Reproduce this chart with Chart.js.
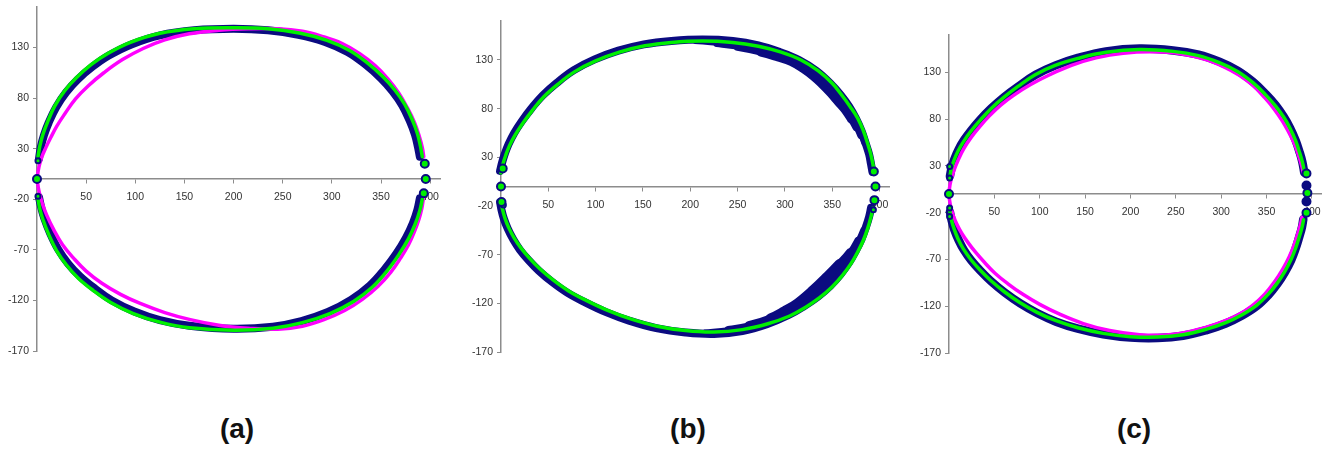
<!DOCTYPE html>
<html>
<head>
<meta charset="utf-8">
<script src="https://cdn.jsdelivr.net/npm/chart.js@4.4.0/dist/chart.umd.min.js"></script>
<style>
  body { margin: 0; background: #fff; width: 1327px; height: 449px; overflow: hidden; position: relative; }
  .panel { position: absolute; }
  .tag { position: absolute; font: bold 28px "Liberation Sans", Arial, sans-serif; color: #111; transform: translate(-50%, -50%); }
</style>
</head>
<body>
<div class="panel" style="left:7px;top:-5px;width:445px;height:368px"><canvas id="ca"></canvas></div>
<div class="panel" style="left:471px;top:9px;width:430px;height:355px"><canvas id="cb"></canvas></div>
<div class="panel" style="left:919px;top:23px;width:414px;height:342px"><canvas id="cc"></canvas></div>
<div class="tag" style="left:237px;top:429px">(a)</div>
<div class="tag" style="left:688px;top:429px">(b)</div>
<div class="tag" style="left:1134px;top:429px">(c)</div>
<script>
// tick labels shared by the three panels
const xTicks = [50, 100, 150, 200, 250, 300, 350, 400];
const yTicks = [-170, -120, -70, -20, 30, 80, 130];

// panel (a) - [x, y] pairs, each run left to right
const aGreenTop = [[1,22],[3,33],[6,44],[11,57],[18,72],[28,87],[40,100],[55,113],[72,124],[95,135],[125,144],[160,148.5],[200,149.5],[235,148.5],[268,144],[295,137],[318,127],[337,114],[352,101],[364,88],[374,74],[382,58],[387,45],[390,33],[392,22]];
const aGreenBot = [[1,-20],[3,-30],[6,-40],[12,-55],[20,-71],[30,-85],[42,-98],[57,-110],[75,-122],[98,-133],[125,-141.5],[155,-147],[200,-149.5],[240,-147.5],[270,-142],[298,-133],[322,-121],[341,-107],[356,-91],[368,-75],[378,-59],[385,-44],[389.5,-31],[392,-20]];
const aMagTop = [[0,0],[2,12],[5,22],[9,31],[14,41],[20,52],[28,64],[39,79],[52,92],[68,105],[87,118],[108,129],[130,137.5],[155,143.5],[185,147],[215,148.5],[245,148.5],[270,146],[290,141],[310,134],[328,124],[344,112],[357,99],[368,85],[377,70],[384,56],[389,42],[392,31],[393.5,22]];
const aMagBot = [[0,0],[2,-12],[5,-23],[10,-36],[17,-50],[26,-65],[37,-78],[50,-91],[66,-103],[85,-114],[105,-123],[130,-132],[156,-139],[185,-144.5],[215,-147.5],[245,-148.5],[270,-145.5],[292,-139],[313,-130],[331,-119],[347,-106],[360,-92],[370,-78],[378,-65],[384,-52],[388.5,-40],[391.5,-29],[393,-20]];
const aNavyTop = [[2,20],[4,32],[7,43],[12,56],[19.5,71],[29.5,85.5],[41.5,98.5],[56.5,111],[73,122],[96,133],[125,142],[160,147],[200,148.5],[235,147],[266,142.5],[293,135.5],[316,125.5],[335,112.5],[350,99.5],[361.5,87],[371.5,73],[379.5,57],[384.5,44],[387.5,32],[389.5,22]];
const aNavyBot = [[2,-18],[4.5,-29],[7.5,-39],[13.5,-54],[21.5,-69.5],[31.5,-83.5],[43.5,-96],[58.5,-108],[76,-120],[99,-131],[125,-139.5],[155,-145],[200,-148],[240,-146],[269,-140.5],[296,-131.5],[319.5,-119.5],[338.5,-105.5],[353.5,-89.5],[365.5,-74],[375.5,-58],[382.5,-43.5],[387,-30.5],[389.5,-19]];
const aRings = [[0,0],[394.5,15],[395.5,0],[393.5,-14]];
const aDots = [[1,18],[1,-17]];

// panel (b)
const bGreenTop = [[0,14],[2,23],[5,32],[9,42],[15,53],[23,65],[33,78],[45,92],[60,105],[78,118],[100,129],[125,138],[152,144.5],[180,148],[213,149.5],[245,148],[272,144],[296,138],[317,130],[335,119],[350,106],[360,94],[369,82],[377,70],[383,57],[387.5,44],[390.5,34],[393,23],[394.6,14]];
const bGreenBot = [[0,-15],[1.5,-23],[4,-32],[8,-42],[14,-53],[21,-63],[30,-73.5],[41,-84.5],[55,-96],[71,-107],[90,-117],[112,-127],[137,-136],[165,-143.5],[195,-148],[225,-149.5],[255,-147],[282,-141],[305,-133],[322,-124],[337,-114],[350,-103],[361,-91],[370,-79],[377,-67],[383,-55],[387.5,-43],[391,-31],[393,-22]];
const bNavyTop = [[-1,16],[1,24],[4,33.5],[8,43.5],[14,55],[22,67],[32,80],[44,93.5],[59,106.5],[77,119.5],[99,130.5],[124,139.5],[151,146],[180,149.5],[213,151],[245,149.5],[272,145],[295,138],[315,130],[333,119],[348,106],[359,94],[368,82],[375,70],[381,57],[385.5,44],[389,33],[391,23],[392.5,15]];
const bNavyTopIn = [[205,148.5],[228,146.5],[250,144],[275,139],[293,134],[307,129.5],[320,122],[331,114],[340,106],[349,97],[357,88],[365,79],[371,70],[376,61],[380,52],[383,44]];
const bNavyBot = [[-1,-16],[0.5,-24],[3,-33],[7,-43],[13,-54.5],[20,-65],[29,-75.5],[40,-86.5],[54,-98],[70,-109],[89,-119],[111,-129],[136,-138],[164,-145.5],[195,-150],[225,-151.5],[255,-148.5],[281,-141.5],[304,-132],[320,-123],[335,-113],[348,-102],[359,-90],[368,-78],[375,-66],[381,-54],[385.5,-42],[389,-31],[391,-22]];
const bNavyBotIn = [[215,-149],[240,-146.5],[262,-143],[285,-136],[300,-128.5],[313.5,-120.5],[330,-107],[345.5,-92.5],[358,-80],[369,-68],[377,-55],[382,-44]];
const bRings = [[0,0],[1.8,18.5],[0.5,-16],[395.7,0],[394,15.4],[394.6,-14]];
const bDots = [[2.5,-19],[393.5,-24]];

// panel (c)
const cGreenTop = [[0.7,17],[2.5,27],[5.5,36],[10,46],[16,56],[24,67],[34,78.5],[46,91],[60,103],[76,115],[95,127.5],[117,137.5],[142,145],[173,151.5],[210,154.5],[247,152.5],[275,148],[298,140.5],[318,131],[335,119],[349,106],[360,94],[369,82],[376,70],[382,57],[386.5,44],[389.5,34],[392,22.5]];
const cGreenBot = [[0.7,-17],[2.5,-27],[5.5,-37],[10,-48],[16,-59],[24,-70],[34,-81],[46,-92.5],[61,-104.5],[78,-116],[97,-126.5],[118,-135.5],[142,-143],[170,-149],[200,-152.5],[230,-153],[258,-150.5],[284,-144.5],[305,-137.5],[323,-129],[339,-119],[352,-107],[362,-95],[370,-83],[377,-70],[382,-58],[386,-46],[389,-36],[390.8,-27.5]];
const cMagTop = [[0,0],[0.5,6],[2,14],[5,24],[10,36],[16,48],[24,60],[33,71],[44,83],[57,95],[72,106],[90,117],[111,127.5],[135,137.5],[162,145.5],[192,150.5],[225,152],[255,150],[282,144],[303,136],[320,127],[335,116],[348,103],[359,90],[367.5,78],[375,65],[381,53],[385,42],[388.5,31],[390.5,22.5]];
const cMagBot = [[0,0],[0.5,-6],[2,-14],[5,-24],[9,-33],[14,-42],[21,-52],[29,-62],[39,-73],[51,-85],[65,-96],[81,-107],[100,-118],[122,-128.5],[148,-138.5],[177,-146],[210,-150.5],[242,-150.5],[270,-146],[295,-139],[317,-130],[334,-119.5],[348,-107],[359,-93.5],[368,-80],[375,-67],[380.5,-54],[384.5,-42],[387.5,-32],[389,-25]];
const cNavyTop = [[1,19],[3,28.5],[6,37.5],[10.5,47.5],[16.5,57.5],[24.5,68],[34.5,79.5],[46.5,91.5],[60.5,103.5],[76.5,115],[95.5,127.5],[117.5,137.5],[142,145.5],[173,152.5],[210,155.5],[247,153.5],[275,149],[298,141.5],[318,132],[335,120],[349,107],[360,95],[369,82.5],[376,70.5],[382,57.5],[386.5,44.5],[389.5,34],[391.5,23]];
const cNavyBot = [[1,-19],[3,-28.5],[6,-38.5],[10.5,-49],[16.5,-60],[24.5,-71],[34.5,-82],[46.5,-93.5],[61.5,-105.5],[78.5,-117],[97.5,-127.5],[118,-136.5],[142,-144],[170,-150],[200,-153.5],[230,-154],[258,-151.5],[284,-145.5],[305,-138.5],[323,-130],[339,-120],[352,-108],[362,-96],[370,-84],[377,-71],[382,-58.5],[386,-46],[389,-35.5],[390.5,-27]];
const cRings = [[0,0],[394,22],[395,1],[394,-20]];
const cDots = [[0.7,17],[0.7,29.5],[0.7,-15],[0.7,-24]];
const cSolid = [[394,9],[394,-8]];

const NAVY = "#0b0b80";
const GREEN = "#00f000";
const MAGENTA = "#ff00ff";
const AXIS = "#8c8c8c";

const pts = (arr) => arr.map((p) => ({ x: p[0], y: p[1] }));

// a continuous run of the curve
const curve = (arr, color, width, order) => ({
  data: pts(arr),
  showLine: true,
  borderColor: color,
  borderWidth: width,
  borderCapStyle: "round",
  borderJoinStyle: "round",
  pointRadius: 0,
  tension: 0.4,
  clip: false,
  order: order,
});

// the wider navy smear in (b): thin at both ends, full width in the middle
const band = (arr, width) => {
  const ds = curve(arr, NAVY, width, 3);
  const n = arr.length;
  ds.segment = {
    borderWidth: (c) => Math.min(width, 4 + 2.5 * c.p0DataIndex, 4 + 2.5 * (n - 2 - c.p0DataIndex)),
  };
  return ds;
};

// circles near y = 0
const marks = (arr, fill, r) => ({
  data: pts(arr),
  showLine: false,
  pointRadius: r,
  pointBorderWidth: 2,
  pointBorderColor: NAVY,
  pointBackgroundColor: fill,
  clip: false,
  order: 0,
});

const tickFont = { family: "'Liberation Sans', Arial, sans-serif", size: 10.5 };

function makeChart(id, datasets) {
  const ctx = document.getElementById(id).getContext("2d");
  return new Chart(ctx, {
    type: "scatter",
    data: { datasets: datasets },
    options: {
      responsive: true,
      maintainAspectRatio: false,
      animation: false,
      layout: { padding: { left: 0, top: 12, right: 12, bottom: 12 } },
      plugins: { legend: { display: false }, tooltip: { enabled: false } },
      scales: {
        x: {
          type: "linear",
          min: 0,
          max: 410,
          position: { y: 0 },
          afterBuildTicks: (s) => { s.ticks = xTicks.map((v) => ({ value: v })); },
          grid: { drawOnChartArea: false, drawTicks: true, tickLength: 4, color: AXIS },
          border: { color: AXIS, width: 1.5 },
          ticks: { font: tickFont, color: "#333", padding: 8, maxRotation: 0, autoSkip: false },
        },
        y: {
          type: "linear",
          min: -170,
          max: 170,
          position: "left",
          afterBuildTicks: (s) => { s.ticks = yTicks.map((v) => ({ value: v })); },
          afterFit: (s) => { s.width = 30; },
          grid: { drawOnChartArea: false, drawTicks: true, tickLength: 4, color: AXIS },
          border: { color: AXIS, width: 1.5 },
          ticks: { font: tickFont, color: "#333", padding: 4, autoSkip: false },
        },
      },
    },
  });
}

makeChart("ca", [
  marks(aRings, GREEN, 4),
  marks(aDots, GREEN, 2.5),
  curve(aGreenTop, GREEN, 3.5, 1),
  curve(aGreenBot, GREEN, 3.5, 1),
  curve(aMagTop, MAGENTA, 3.5, 2),
  curve(aMagBot, MAGENTA, 3.5, 2),
  curve(aNavyTop, NAVY, 8, 3),
  curve(aNavyBot, NAVY, 8, 3),
]);

makeChart("cb", [
  marks(bRings, GREEN, 4),
  marks(bDots, GREEN, 2.5),
  curve(bGreenTop, GREEN, 3.5, 1),
  curve(bGreenBot, GREEN, 3.5, 1),
  curve(bNavyTop, NAVY, 8, 3),
  curve(bNavyBot, NAVY, 8, 3),
  band(bNavyTopIn, 11),
  band(bNavyBotIn, 11),
]);

makeChart("cc", [
  marks(cRings, GREEN, 4),
  marks(cDots, GREEN, 2.5),
  marks(cSolid, NAVY, 4),
  curve(cGreenTop, GREEN, 3.5, 1),
  curve(cGreenBot, GREEN, 3.5, 1),
  curve(cMagTop, MAGENTA, 3.5, 2),
  curve(cMagBot, MAGENTA, 3.5, 2),
  curve(cNavyTop, NAVY, 8.5, 3),
  curve(cNavyBot, NAVY, 8.5, 3),
]);
</script>
</body>
</html>
